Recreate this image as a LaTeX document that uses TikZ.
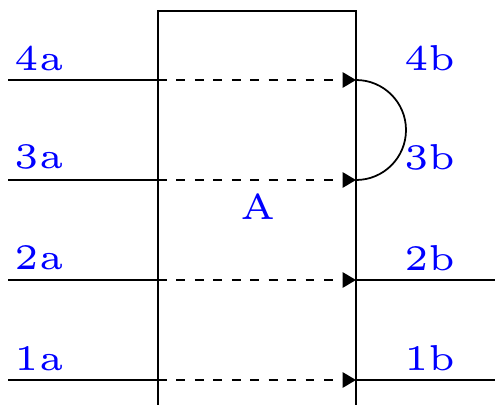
\documentclass[tikz,border=0pt]{standalone}
\usepackage{amsmath}
\usepackage{tikz}
\usetikzlibrary{calc,positioning,arrows.meta}

\begin{document}
\begin{tikzpicture}[lbl/.style={text=blue,font=\fontsize{5}{6}\selectfont,scale=4.1,inner sep=0pt,anchor=base},pin/.style={line width=1pt},flow/.style={line width=1pt,dash pattern=on 5pt off 5.5pt,-{Triangle[length=2.7mm,width=3.1mm]}}]
     \clip (-0.16,-0.48) rectangle (9.74,7.6);
     \useasboundingbox (-0.16,-0.48) rectangle (9.74,7.6);

     \coordinate (in1) at (0,0);
     \coordinate (in2) at (0,2);
     \coordinate (in3) at (0,4);
     \coordinate (in4) at (0,6);

     \coordinate (l1) at (3,0);
     \coordinate (l2) at (3,2);
     \coordinate (l3) at (3,4);
     \coordinate (l4) at (3,6);

     \coordinate (r1) at (6.96,0);
     \coordinate (r2) at (6.96,2);
     \coordinate (r3) at (6.96,4);
     \coordinate (r4) at (6.96,6);

     \coordinate (out1) at (9.74,0);
     \coordinate (out2) at (9.74,2);

     \draw[pin] (3,-1) -- (3,7.38) -- (6.96,7.38) -- (6.96,-1);

     \node[lbl] (la1) at (0.62,0.2) {1a};
     \node[lbl] (la2) at (0.62,2.2) {2a};
     \node[lbl] (la3) at (0.62,4.22) {3a};
     \node[lbl] (la4) at (0.62,6.18) {4a};

     \node[lbl] (lb1) at (8.44,0.2) {1b};
     \node[lbl] (lb2) at (8.44,2.18) {2b};
     \node[lbl] (lb3) at (8.44,4.2) {3b};
     \node[lbl] (lb4) at (8.44,6.18) {4b};

     \node[lbl] (blk) at (5,3.2) {A};

     \draw[pin] (in1) -- (l1);
     \draw[pin] (in2) -- (l2);
     \draw[pin] (in3) -- (l3);
     \draw[pin] (in4) -- (l4);
     \draw[flow] (l1) -- (r1);
     \draw[flow] (l2) -- (r2);
     \draw[flow] (l3) -- (r3);
     \draw[flow] (l4) -- (r4);
     \draw[pin] (r1) -- (out1);
     \draw[pin] (r2) -- (out2);
     \draw[pin] (r4) arc[start angle=90,end angle=-90,radius=1];
    \end{tikzpicture}
\end{document}
